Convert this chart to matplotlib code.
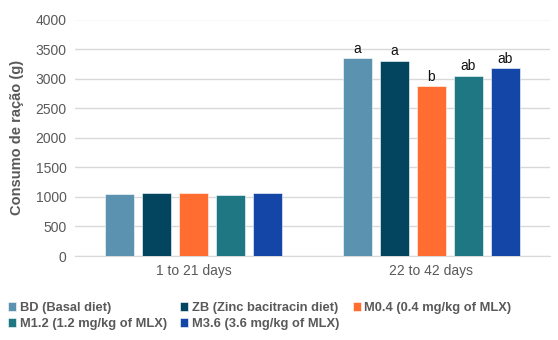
import matplotlib.pyplot as plt
import numpy as np

plt.rcParams['font.family'] = ['Liberation Sans', 'DejaVu Sans']

periods = ['1 to 21 days', '22 to 42 days']
series = ['BD (Basal diet)', 'ZB (Zinc bacitracin diet)', 'M0.4 (0.4 mg/kg of MLX)',
          'M1.2 (1.2 mg/kg of MLX)', 'M3.6 (3.6 mg/kg of MLX)']
bd = [1044, 3345]
zb = [1060, 3305]
m04 = [1060, 2871]
m12 = [1032, 3051]
m36 = [1071, 3176]
letters_late = ['a', 'a', 'b', 'ab', 'ab']
colors = ['#5A92AF', '#03455F', '#FF6D31', '#1F7783', '#1346A6']

values = [bd, zb, m04, m12, m36]

fig = plt.figure(figsize=(5.58, 3.4), dpi=100)
ax = fig.add_axes([75 / 558, 84 / 340, 475 / 558, 236.5 / 340])
ax.set_axisbelow(True)
ax.grid(True, axis='y', color='#D9D9D9', linewidth=1)

x = np.arange(len(periods))
step = 0.156
width = 0.122
bars = []
for i, (name, vals, col) in enumerate(zip(series, values, colors)):
    pos = x + (i - 2) * step
    b = ax.bar(pos, vals, width, color=col, label=name, zorder=3,
               edgecolor='white', linewidth=0.4)
    bars.append(b)
    ax.text(pos[1], vals[1] + 40, letters_late[i], ha='center', va='bottom',
            fontsize=10, color='#111111')

ax.set_xlim(-0.5, 1.5)
ax.set_ylim(0, 4000)
ax.set_yticks(range(0, 4001, 500))
ax.set_xticks(x)
ax.set_xticklabels(periods)
ax.tick_params(length=0, labelsize=10, colors='#595959', pad=6)
for s in ['top', 'right', 'left']:
    ax.spines[s].set_visible(False)
ax.spines['bottom'].set_color('#D9D9D9')
ax.set_ylabel('Consumo de ração (g)', fontsize=10.5, fontweight='bold',
              color='#595959', labelpad=8)

# matplotlib fills legend columns first; reorder so rows read like the original
order = [0, 3, 1, 4, 2]
leg = ax.legend([bars[k] for k in order], [series[k] for k in order],
                loc='upper left', bbox_to_anchor=(-67 / 475, -0.195), ncol=3,
                frameon=False, handlelength=0.6, handleheight=0.6,
                handletextpad=0.3, columnspacing=1.05, labelspacing=0.3,
                borderaxespad=0, borderpad=0,
                prop={'size': 9.3, 'weight': 'bold'})
for t in leg.get_texts():
    t.set_color('#595959')

plt.savefig('out.png')
